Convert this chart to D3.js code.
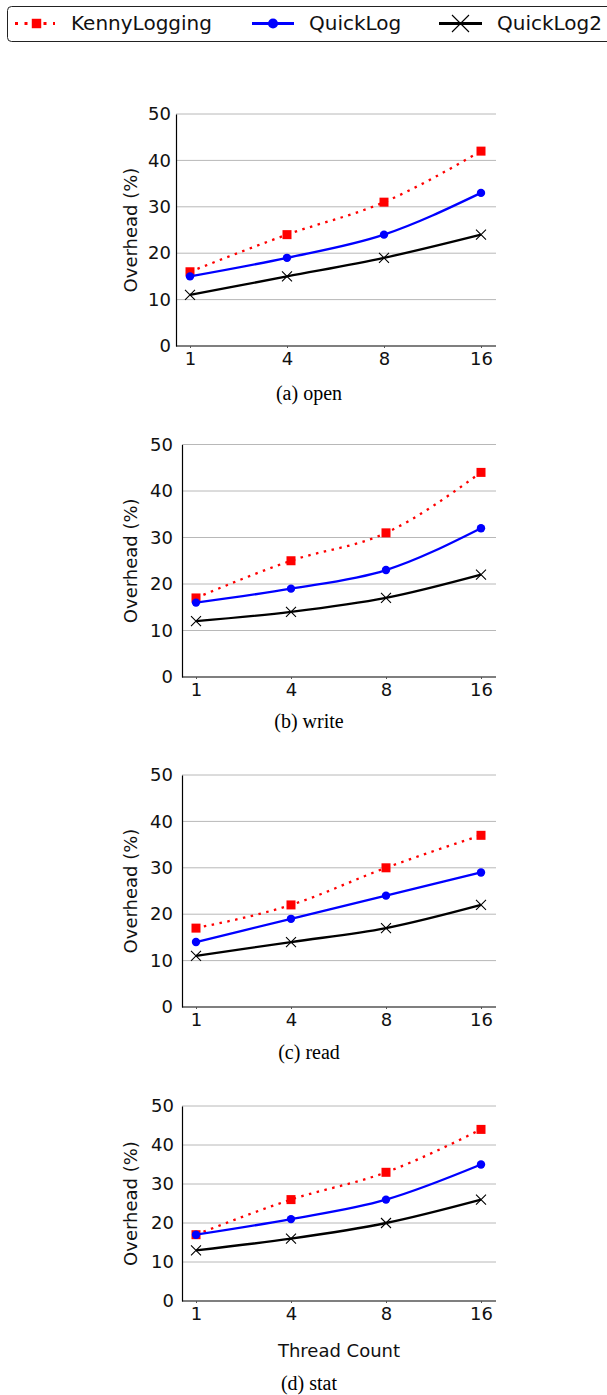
<!DOCTYPE html>
<html>
<head>
<meta charset="utf-8">
<script src="https://cdn.jsdelivr.net/npm/d3@7"></script>
<style>
  html, body { margin: 0; padding: 0; background: #fff; }
  svg { display: block; }
</style>
</head>
<body>
<svg id="chart" width="607" height="1395"></svg>
<script>
// ---- data ----
const threads = ["1", "4", "8", "16"];
const yTicks = [0, 10, 20, 30, 40, 50];
const panelNames = ["(a) open", "(b) write", "(c) read", "(d) stat"];
const seriesNames = ["KennyLogging", "QuickLog", "QuickLog2"];
// values per panel (open, write, read, stat), per thread count
const kennyLogging = [[16, 24, 31, 42], [17, 25, 31, 44], [17, 22, 30, 37], [17, 26, 33, 44]];
const quickLog     = [[15, 19, 24, 33], [16, 19, 23, 32], [14, 19, 24, 29], [17, 21, 26, 35]];
const quickLog2    = [[11, 15, 19, 24], [12, 14, 17, 22], [11, 14, 17, 22], [13, 16, 20, 26]];

// ---- layout ----
const panels = [
  { left: 176, right: 496, top: 114, bottom: 346, labelEnd: 171, caption: 399.5 },
  { left: 182, right: 496, top: 444.5, bottom: 677, labelEnd: 173, caption: 727.5 },
  { left: 182, right: 496, top: 775, bottom: 1007, labelEnd: 173, caption: 1058.5 },
  { left: 182, right: 496, top: 1106, bottom: 1301, labelEnd: 174, caption: 1390 }
];
const sans = "DejaVu Sans, sans-serif";
const serif = "Liberation Serif, Times New Roman, serif";

const styles = [
  { color: "#ff0000", dash: "2.5,5.5", legDash: "3,6.5", marker: "square" },
  { color: "#0000ff", dash: null, legDash: null, marker: "circle" },
  { color: "#000000", dash: null, legDash: null, marker: "cross" }
];
const seriesData = [kennyLogging, quickLog, quickLog2];

const svg = d3.select("#chart");

function drawMarker(g, type, x, y, color, s) {
  if (type === "square") {
    const h = 4.5 * s;
    g.append("rect").attr("x", x - h).attr("y", y - h).attr("width", 2 * h).attr("height", 2 * h)
      .attr("fill", color);
  } else if (type === "circle") {
    g.append("circle").attr("cx", x).attr("cy", y).attr("r", 4.2 * s).attr("fill", color);
  } else {
    const h = 5 * s;
    g.append("path").attr("d", `M${x-h},${y-h}L${x+h},${y+h}M${x-h},${y+h}L${x+h},${y-h}`)
      .attr("stroke", color).attr("stroke-width", 1.1).attr("fill", "none");
  }
}

// ---- legend ----
const leg = svg.append("g");
leg.append("rect").attr("x", 7.5).attr("y", 6.5).attr("width", 640).attr("height", 35)
  .attr("rx", 4).attr("fill", "#fff").attr("stroke", "#222").attr("stroke-width", 1);
const legItems = [
  { x1: 15, x2: 55, m: 36.5, tx: 71, ms: 1.05 },
  { x1: 252, x2: 294, m: 273, tx: 309, ms: 1.2 },
  { x1: 439, x2: 482, m: 460.5, tx: 497, ms: 1.7 }
];
seriesNames.forEach((name, i) => {
  const it = legItems[i], st = styles[i];
  leg.append("line").attr("x1", it.x1).attr("x2", it.x2).attr("y1", 23.5).attr("y2", 23.5)
    .attr("stroke", st.color).attr("stroke-width", 3)
    .attr("stroke-dasharray", st.legDash);
  drawMarker(leg, st.marker, it.m, 23.5, st.color, it.ms);
  leg.append("text").attr("x", it.tx).attr("y", 30).attr("font-family", sans)
    .attr("font-size", 20).attr("fill", "#111").text(name);
});

// ---- panels ----
panels.forEach((p, pi) => {
  const g = svg.append("g");
  const x = d3.scalePoint().domain(threads).range([p.left + 14, p.right - 15]);
  const y = d3.scaleLinear().domain([0, 50]).range([p.bottom, p.top]);

  // grid
  g.selectAll(".grid").data(yTicks.filter(t => t > 0)).enter().append("line")
    .attr("x1", p.left).attr("x2", p.right)
    .attr("y1", d => y(d)).attr("y2", d => y(d))
    .attr("stroke", "#b8b8b8").attr("stroke-width", 1);

  // y axis
  const ya = g.append("g").attr("transform", `translate(${p.left},0)`)
    .call(d3.axisLeft(y).tickValues(yTicks).tickSize(0).tickPadding(p.left - p.labelEnd));
  ya.select(".domain").attr("stroke", "#000").attr("stroke-width", 1.2);
  ya.selectAll("text").attr("font-family", sans).attr("font-size", 18).attr("fill", "#111");

  // x axis
  const xa = g.append("g").attr("transform", `translate(0,${p.bottom})`)
    .call(d3.axisBottom(x).tickSize(2).tickPadding(4.5).tickSizeOuter(0));
  xa.select(".domain").attr("d", `M${p.left},0H${p.right}`).attr("stroke", "#000").attr("stroke-width", 1.2);
  xa.selectAll(".tick line").attr("stroke", "#555").attr("stroke-width", 1);
  xa.selectAll("text").attr("font-family", sans).attr("font-size", 18).attr("fill", "#111");

  // y label
  g.append("text")
    .attr("transform", `translate(131,${(p.top + p.bottom) / 2}) rotate(-90)`)
    .attr("text-anchor", "middle").attr("dy", "0.35em")
    .attr("font-family", sans).attr("font-size", 18).attr("fill", "#111")
    .text("Overhead (%)");

  // series
  seriesData.forEach((sd, si) => {
    const vals = sd[pi];
    const st = styles[si];
    const line = d3.line().x((d, i) => x(threads[i])).y(d => y(d)).curve(d3.curveMonotoneX);
    g.append("path").datum(vals).attr("d", line)
      .attr("fill", "none").attr("stroke", st.color).attr("stroke-width", 2.3)
      .attr("stroke-dasharray", st.dash);
    vals.forEach((v, i) => drawMarker(g, st.marker, x(threads[i]), y(v), st.color, 1));
  });

  if (pi === 3) {
    g.append("text").attr("x", 339).attr("y", 1357).attr("text-anchor", "middle")
      .attr("font-family", sans).attr("font-size", 18).attr("fill", "#111").text("Thread Count");
  }
  g.append("text").attr("x", 309).attr("y", p.caption).attr("text-anchor", "middle")
    .attr("font-family", serif).attr("font-size", 20).attr("fill", "#000").text(panelNames[pi]);
});
</script>
</body>
</html>
